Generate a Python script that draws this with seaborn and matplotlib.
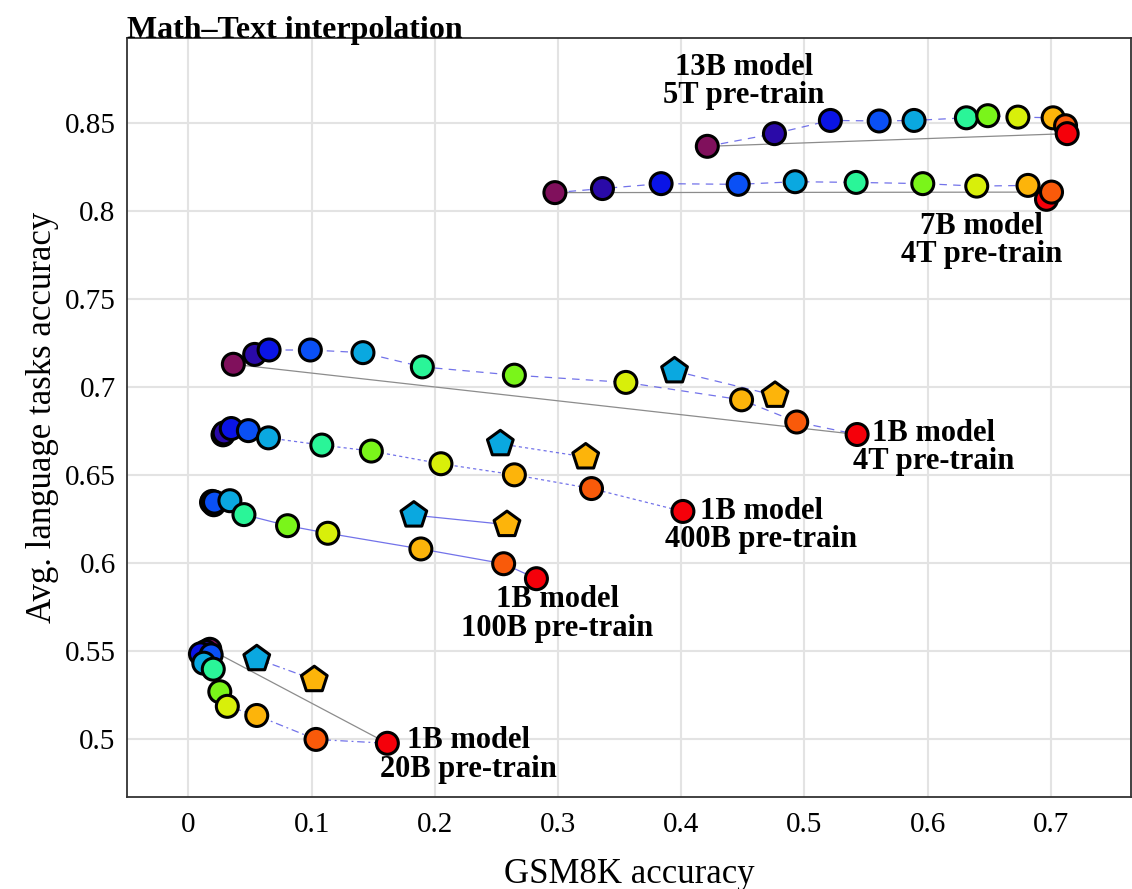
import numpy as np
import pandas as pd
import matplotlib
matplotlib.use("Agg")
import matplotlib.pyplot as plt
import seaborn as sns

# ---------------- data ----------------
steps = list(range(11))
colors = ['#80105c', '#2a0aa8', '#0a14e6', '#0a50f5', '#0aa8e0', '#2af598',
          '#7af51a', '#d8ef0a', '#fdb40a', '#f95a0a', '#f5000a']
pent_colors = ['#0aa8e0', '#fdb40a']

x_13b_5t = [0.4212, 0.4757, 0.5211, 0.5607, 0.5890, 0.6315, 0.6489, 0.6733, 0.7019, 0.7120, 0.7133]
y_13b_5t = [0.8366, 0.8438, 0.8513, 0.8510, 0.8513, 0.8528, 0.8540, 0.8532, 0.8528, 0.8483, 0.8438]

x_7b_4t = [0.2975, 0.3361, 0.3837, 0.4463, 0.4925, 0.5420, 0.5961, 0.6399, 0.6815, 0.6965, 0.7006]
y_7b_4t = [0.8103, 0.8126, 0.8154, 0.8150, 0.8165, 0.8161, 0.8154, 0.8140, 0.8144, 0.8065, 0.8106]
c_7b_4t = [0, 1, 2, 3, 4, 5, 6, 7, 8, 10, 9]

x_1b_4t = [0.0365, 0.0538, 0.0655, 0.0990, 0.1417, 0.1899, 0.2646, 0.3551, 0.4490, 0.4938, 0.5428]
y_1b_4t = [0.7128, 0.7184, 0.7209, 0.7209, 0.7194, 0.7113, 0.7066, 0.7025, 0.6926, 0.6800, 0.6729]
px_1b_4t = [0.3946, 0.4762]
py_1b_4t = [0.7090, 0.6951]

x_1b_400b = [0.0281, 0.0290, 0.0348, 0.0487, 0.0650, 0.1083, 0.1485, 0.2050, 0.2646, 0.3272, 0.4014]
y_1b_400b = [0.6727, 0.6738, 0.6763, 0.6751, 0.6710, 0.6669, 0.6635, 0.6563, 0.6500, 0.6422, 0.6292]
px_1b_400b = [0.2532, 0.3225]
py_1b_400b = [0.6676, 0.6601]

x_1b_100b = [0.0206, 0.0188, 0.0193, 0.0212, 0.0337, 0.0451, 0.0805, 0.1132, 0.1887, 0.2559, 0.2825]
y_1b_100b = [0.6330, 0.6343, 0.6349, 0.6345, 0.6353, 0.6274, 0.6211, 0.6168, 0.6079, 0.5995, 0.5910]
px_1b_100b = [0.1830, 0.2586]
py_1b_100b = [0.6271, 0.6217]

x_1b_20b = [0.0174, 0.0139, 0.0098, 0.0185, 0.0125, 0.0202, 0.0255, 0.0316, 0.0555, 0.1036, 0.1615]
y_1b_20b = [0.5509, 0.5496, 0.5483, 0.5477, 0.5430, 0.5396, 0.5268, 0.5185, 0.5133, 0.4997, 0.4975]
px_1b_20b = [0.0555, 0.1022]
py_1b_20b = [0.5455, 0.5336]

labels = ["13B model\n5T pre-train", "7B model\n4T pre-train", "1B model\n4T pre-train",
          "1B model\n400B pre-train", "1B model\n100B pre-train", "1B model\n20B pre-train"]
label_x = [0.451, 0.644, 0.605, 0.465, 0.2994, 0.2276]
label_y = [0.8735, 0.7830, 0.6654, 0.6213, 0.5710, 0.4909]

title = "Math\u2013Text interpolation"
xlabel = "GSM8K accuracy"
ylabel = "Avg. language tasks accuracy"
xticks = [0, 0.1, 0.2, 0.3, 0.4, 0.5, 0.6, 0.7]
xticklabels = ["0", "0.1", "0.2", "0.3", "0.4", "0.5", "0.6", "0.7"]
yticks = [0.5, 0.55, 0.6, 0.65, 0.7, 0.75, 0.8, 0.85]
yticklabels = ["0.5", "0.55", "0.6", "0.65", "0.7", "0.75", "0.8", "0.85"]

# ---------------- style ----------------
sns.set_theme(style="whitegrid")
plt.rcParams['font.family'] = ['Liberation Serif', 'DejaVu Serif']

fig = plt.figure(figsize=(11.32, 8.89), dpi=100)
ax = fig.add_axes([0.112, 0.1035, 0.887, 0.8535])

line_col = '#5a5ae6'
series = [
    (x_13b_5t, y_13b_5t, steps, None, None, (0, (6, 5)), True),
    (x_7b_4t, y_7b_4t, c_7b_4t, None, None, (0, (6, 5)), True),
    (x_1b_4t, y_1b_4t, steps, px_1b_4t, py_1b_4t, (0, (6, 5)), True),
    (x_1b_400b, y_1b_400b, steps, px_1b_400b, py_1b_400b, (0, (2.5, 2.5)), False),
    (x_1b_100b, y_1b_100b, steps, px_1b_100b, py_1b_100b, '-', False),
    (x_1b_20b, y_1b_20b, steps, px_1b_20b, py_1b_20b, (0, (6, 3, 1.5, 3)), True),
]

for xs, ys, st, pxs, pys, ls, gray in series:
    df = pd.DataFrame({'x': xs, 'y': ys, 'step': st})
    if gray:
        dg = pd.DataFrame({'x': [xs[0], xs[-1]], 'y': [ys[0], ys[-1]]})
        sns.lineplot(data=dg, x='x', y='y', sort=False, estimator=None, ax=ax,
                     color='#8c8c8c', linewidth=0.9, zorder=2)
    sns.lineplot(data=df, x='x', y='y', sort=False, estimator=None, ax=ax,
                 color=line_col, linewidth=0.9, linestyle=ls, zorder=2, alpha=0.85)
    if pxs is not None:
        dp = pd.DataFrame({'x': pxs, 'y': pys, 'k': [0, 1]})
        sns.lineplot(data=dp, x='x', y='y', sort=False, estimator=None, ax=ax,
                     color=line_col, linewidth=0.9, linestyle=ls, zorder=2, alpha=0.85)
        sns.scatterplot(data=dp, x='x', y='y', hue='k', palette=pent_colors, marker='p',
                        s=380, edgecolor='black', linewidth=2.2, legend=False, ax=ax, zorder=3)
    pal = {i: colors[i] for i in range(11)}
    sns.scatterplot(data=df, x='x', y='y', hue='step', palette=pal, marker='o',
                    s=250, edgecolor='black', linewidth=2.2, legend=False, ax=ax, zorder=3)

for t, lx, ly in zip(labels, label_x, label_y):
    ax.text(lx, ly, t, ha='center', va='center', fontsize=22, fontweight='bold',
            linespacing=0.98, color='black', zorder=5)

ax.set_xlim(-0.05, 0.765)
ax.set_ylim(0.467, 0.898)
ax.set_xticks(xticks)
ax.set_xticklabels(xticklabels)
ax.set_yticks(yticks)
ax.set_yticklabels(yticklabels)
ax.tick_params(axis='x', length=0, labelsize=21, pad=11, colors='black')
ax.tick_params(axis='y', length=0, labelsize=21, pad=8, colors='black')
ax.set_xlabel(xlabel, fontsize=25, labelpad=14, color='black')
ax.set_ylabel(ylabel, fontsize=25, labelpad=4, color='black')
ax.set_title(title, loc='left', fontsize=23, fontweight='bold', pad=0, color='black')

ax.grid(True, color='#e3e3e3', linewidth=1.5)
ax.set_facecolor('white')
for sp in ax.spines.values():
    sp.set_color('#333333')
    sp.set_linewidth(1.3)
    sp.set_visible(True)

fig.savefig("out.png", dpi=100, facecolor='white')
